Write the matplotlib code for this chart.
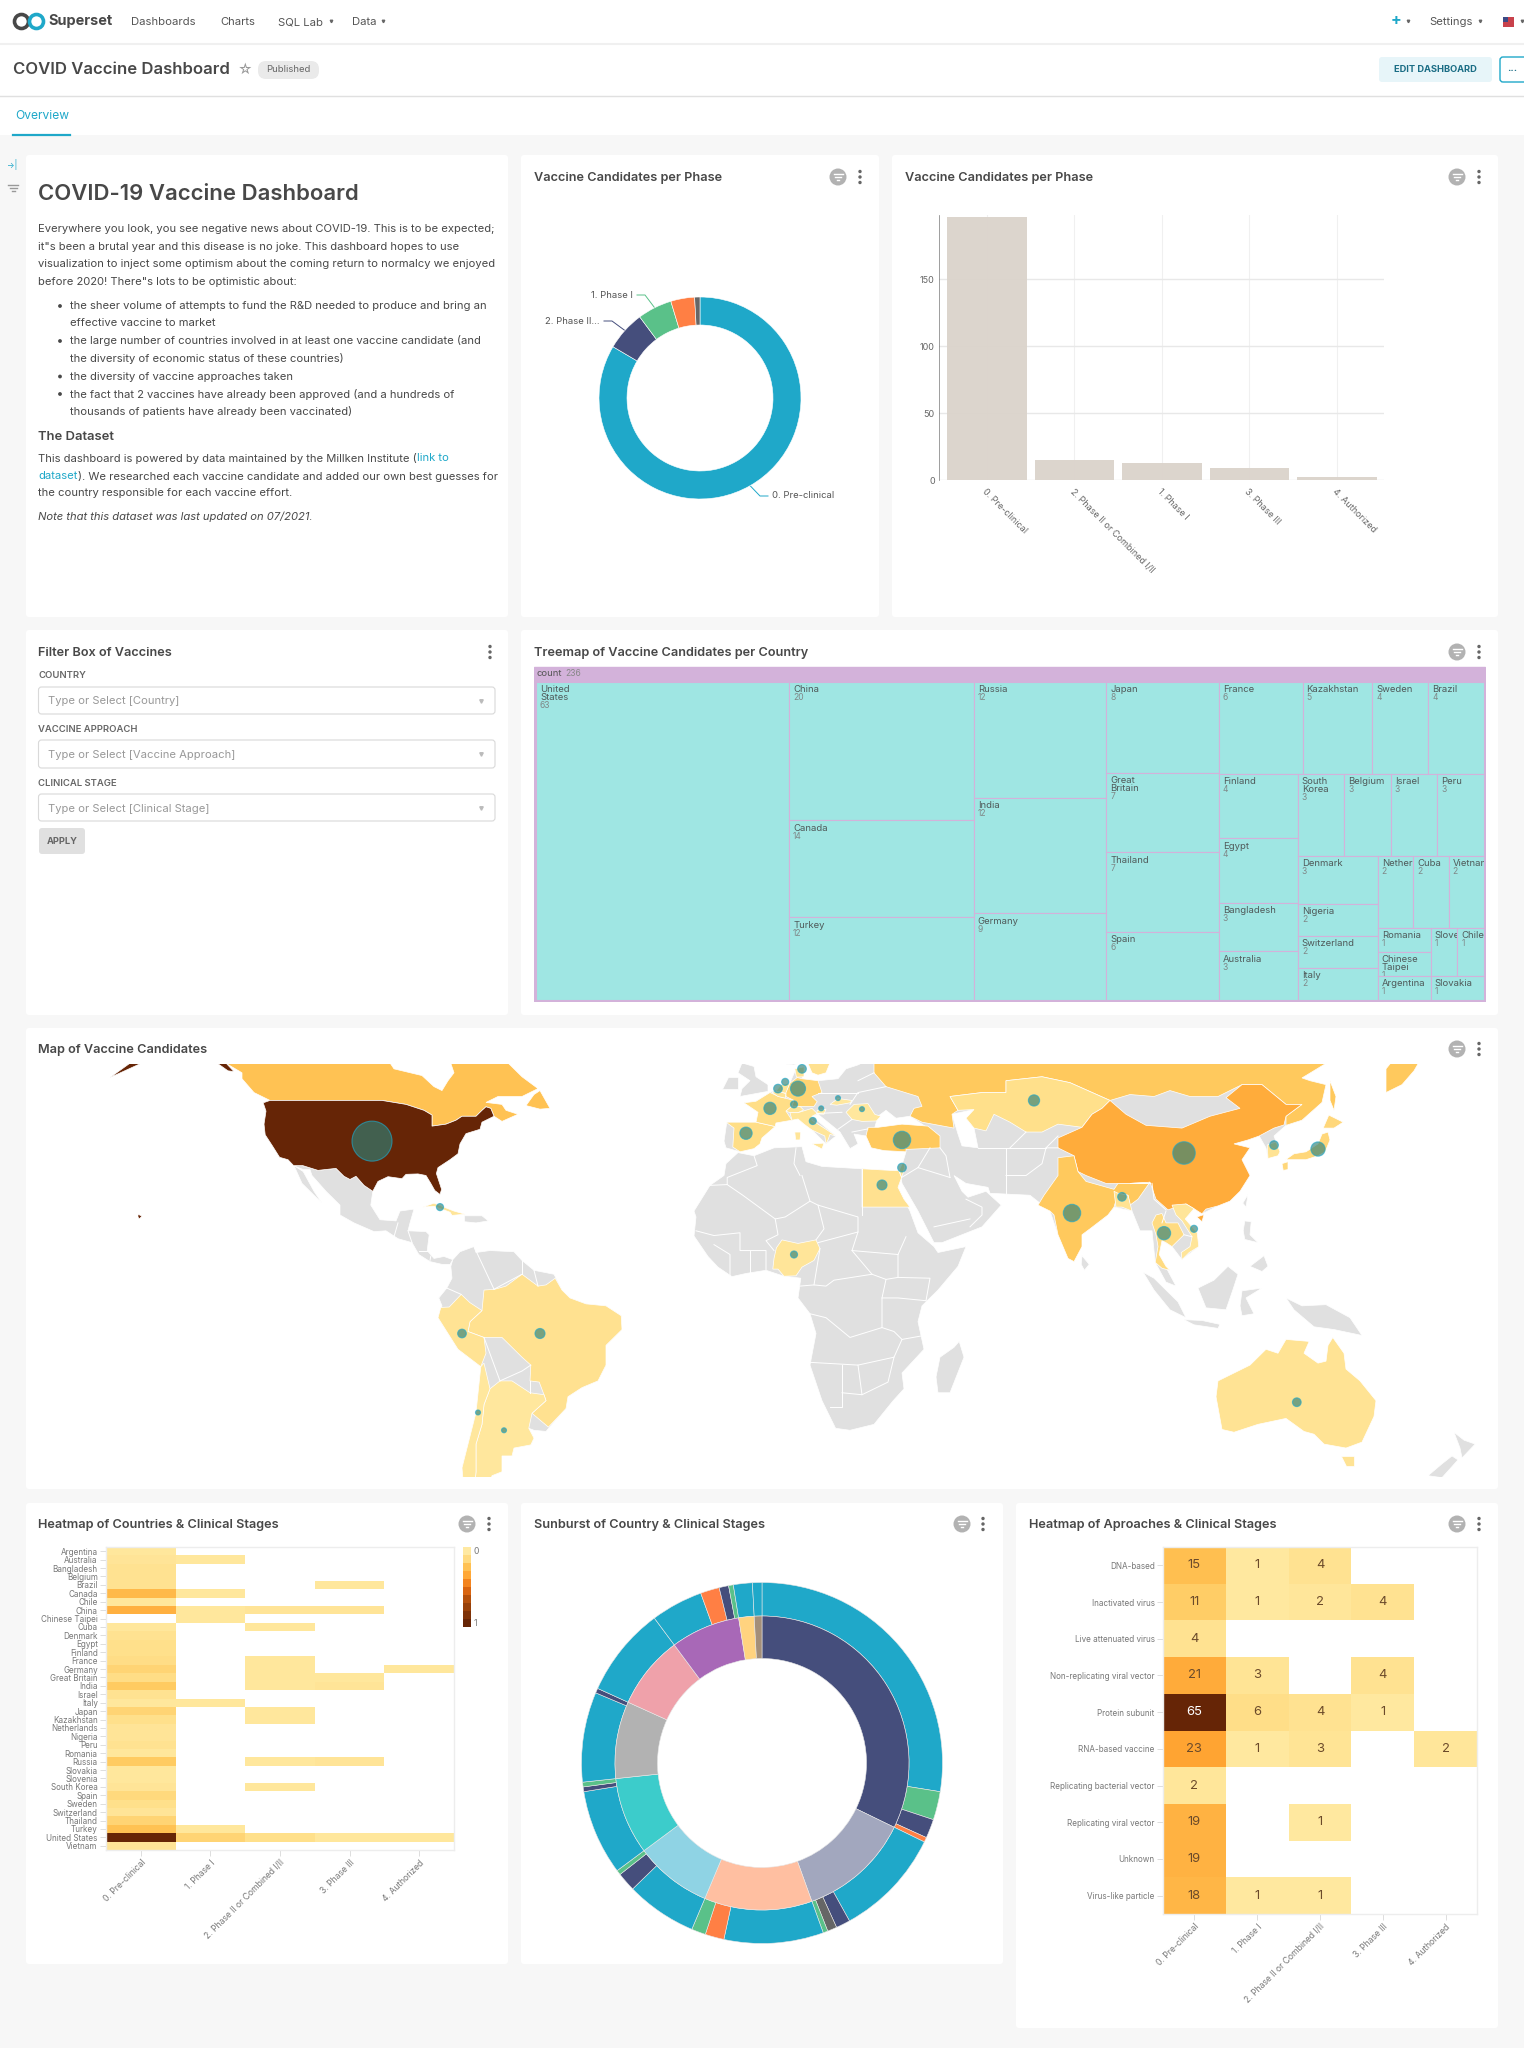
import numpy as np
import matplotlib
matplotlib.use("Agg")
import matplotlib.pyplot as plt
from matplotlib.colors import LinearSegmentedColormap
from matplotlib.patches import Rectangle, Circle, FancyBboxPatch

plt.rcParams['font.family'] = ['Inter', 'DejaVu Sans']

W, H = 1524, 2048

# ---- data ----
stages = ['0. Pre-clinical', '1. Phase I', '2. Phase II or Combined I/II', '3. Phase III', '4. Authorized']
countries = ['Argentina', 'Australia', 'Bangladesh', 'Belgium', 'Brazil', 'Canada', 'Chile', 'China',
             'Chinese Taipei', 'Cuba', 'Denmark', 'Egypt', 'Finland', 'France', 'Germany', 'Great Britain',
             'India', 'Israel', 'Italy', 'Japan', 'Kazakhstan', 'Netherlands', 'Nigeria', 'Peru', 'Romania',
             'Russia', 'Slovakia', 'Slovenia', 'South Korea', 'Spain', 'Sweden', 'Switzerland', 'Thailand',
             'Turkey', 'United States', 'Vietnam']
country_stage = [
    [1, 0, 0, 0, 0], [2, 1, 0, 0, 0], [3, 0, 0, 0, 0], [3, 0, 0, 0, 0], [3, 0, 0, 1, 0], [13, 1, 0, 0, 0],
    [1, 0, 0, 0, 0], [15, 1, 2, 2, 0], [0, 1, 0, 0, 0], [1, 0, 1, 0, 0], [3, 0, 0, 0, 0], [4, 0, 0, 0, 0],
    [4, 0, 0, 0, 0], [5, 0, 1, 0, 0], [7, 0, 1, 0, 1], [5, 0, 1, 1, 0], [9, 0, 1, 2, 0], [3, 0, 0, 0, 0],
    [1, 1, 0, 0, 0], [7, 0, 1, 0, 0], [4, 0, 1, 0, 0], [2, 0, 0, 0, 0], [2, 0, 0, 0, 0], [3, 0, 0, 0, 0],
    [1, 0, 0, 0, 0], [9, 0, 1, 2, 0], [1, 0, 0, 0, 0], [1, 0, 0, 0, 0], [2, 0, 1, 0, 0], [6, 0, 0, 0, 0],
    [4, 0, 0, 0, 0], [2, 0, 0, 0, 0], [7, 0, 0, 0, 0], [11, 1, 0, 0, 0], [50, 7, 4, 1, 1], [2, 0, 0, 0, 0],
]
approaches = ['DNA-based', 'Inactivated virus', 'Live attenuated virus', 'Non-replicating viral vector',
              'Protein subunit', 'RNA-based vaccine', 'Replicating bacterial vector', 'Replicating viral vector',
              'Unknown', 'Virus-like particle']
approach_stage = [
    [15, 1, 4, 0, 0], [11, 1, 2, 4, 0], [4, 0, 0, 0, 0], [21, 3, 0, 4, 0], [65, 6, 4, 1, 0],
    [23, 1, 3, 0, 2], [2, 0, 0, 0, 0], [19, 0, 1, 0, 0], [19, 0, 0, 0, 0], [18, 1, 1, 0, 0],
]
phase_order = [0, 2, 1, 3, 4]
phase_colors = ['#1FA8C9', '#5AC189', '#454E7C', '#FF7F44', '#666666']
sun_order = ['Protein subunit', 'RNA-based vaccine', 'Non-replicating viral vector', 'DNA-based',
             'Virus-like particle', 'Replicating viral vector', 'Unknown', 'Inactivated virus',
             'Live attenuated virus', 'Replicating bacterial vector']
sun_colors = ['#454E7C', '#A2A7BE', '#FFBFA1', '#8FD3E4', '#3CCCCB', '#B2B2B2', '#EFA1AA', '#A868B7',
              '#FFD37F', '#A38F79']

treemap_tree = ('h', [
    'United States',
    ('v', ['China', 'Canada', 'Turkey']),
    ('v', ['Russia', 'India', 'Germany']),
    ('v', ['Japan', 'Great Britain', 'Thailand', 'Spain']),
    ('v', [
        ('h', ['France', 'Kazakhstan', 'Sweden', 'Brazil']),
        ('h', [
            ('v', ['Finland', 'Egypt', 'Bangladesh', 'Australia']),
            ('v', [
                ('h', ['South Korea', 'Belgium', 'Israel', 'Peru']),
                ('h', [
                    ('v', ['Denmark', 'Nigeria', 'Switzerland', 'Italy']),
                    ('v', [
                        ('h', ['Netherlands', 'Cuba', 'Vietnam']),
                        ('h', [
                            ('v', ['Romania', 'Chinese Taipei', 'Argentina']),
                            ('v', [('h', ['Slovenia', 'Chile']), 'Slovakia']),
                        ]),
                    ]),
                ]),
            ]),
        ]),
    ]),
])
wrapped_names = {'United States': 'United\nStates', 'Great Britain': 'Great\nBritain',
                 'South Korea': 'South\nKorea', 'Chinese Taipei': 'Chinese\nTaipei'}

# bubble centres, lon/lat
centroids = {
    'United States': (-97.5, 38.7), 'Brazil': (-55.5, -10), 'Peru': (-75, -10), 'Argentina': (-64.5, -34.5),
    'Chile': (-71, -30), 'Cuba': (-80.5, 22), 'Egypt': (30, 27.6), 'Israel': (35, 32), 'Nigeria': (8, 10),
    'Turkey': (35, 39), 'Kazakhstan': (68, 49), 'China': (105.5, 35.7), 'India': (77.5, 20.5),
    'Thailand': (100.5, 15.4), 'Vietnam': (108, 16.5), 'South Korea': (128, 37.7), 'Japan': (139, 36.7),
    'Australia': (133.7, -27.4), 'Spain': (-4, 40.7), 'France': (2, 47), 'Netherlands': (5.8, 53.7),
    'Belgium': (4, 52), 'Germany': (9, 52), 'Switzerland': (8, 48), 'Slovenia': (14.8, 47),
    'Slovakia': (19, 49.6), 'Romania': (25, 46.8), 'Italy': (12.7, 43.8), 'Denmark': (10, 57),
    'Bangladesh': (90, 24.6),
}

# rough land outlines, lon/lat
gray_land = [
    [(-117.1, 32.5), (-114.8, 32.5), (-111, 31.3), (-106.5, 31.8), (-104.5, 29.8), (-103, 29), (-101.5, 29.8),
     (-99.5, 27.5), (-97.3, 26), (-97.8, 22.5), (-95.5, 18.8), (-91.5, 18.5), (-90.5, 21), (-87, 21.5), (-88, 18),
     (-88.5, 16), (-84, 15.8), (-83.2, 15), (-83.7, 11), (-82, 9), (-79.5, 9.5), (-77.3, 8.7), (-78, 7.5), (-80, 7.5),
     (-83, 8.2), (-85.8, 10), (-87.5, 13), (-91, 14), (-94, 16), (-97, 15.8), (-102, 18), (-105.5, 20), (-105.5, 22.5),
     (-109, 26), (-112.5, 30), (-113, 31.5), (-114.7, 31.5)],
    [(-117, 32.5), (-115, 28), (-110, 23), (-112, 26), (-114.7, 31)],
    [(-74.4, 19.8), (-70, 19.8), (-68.4, 18.5), (-71.5, 18), (-74.4, 18.3)],
    [(-77.3, 8.7), (-75.5, 10.7), (-72, 12), (-71.5, 10.5), (-68, 11), (-62, 10.7), (-60, 8.5), (-57, 6), (-52, 5),
     (-50, 1), (-48, -1), (-44, -2.5), (-39, -3), (-35.2, -5.5), (-35, -9), (-39, -13), (-39, -18), (-41, -22),
     (-45, -23.7), (-48.5, -26), (-49, -29), (-52.5, -33), (-54, -34.8), (-57, -34.5), (-58.3, -34), (-57, -36.5),
     (-57.8, -38.2), (-62, -39), (-62.5, -41), (-65, -41), (-65, -45), (-67.5, -46), (-69, -51), (-68.5, -52.5),
     (-72, -53), (-74.5, -50), (-75, -44), (-73.5, -38), (-71.5, -30), (-70.3, -18.4), (-76, -14), (-81, -6), (-80, -3),
     (-80.8, -1), (-78.8, 1.5), (-77.5, 4), (-77.8, 7)],
    [(-6, 35.8), (-2, 35), (3, 37), (10, 37.3), (11, 33.5), (15, 32.3), (20, 32), (25, 31.7), (32, 31.3), (34.2, 31.2),
     (34.9, 29.5), (34, 27), (35.5, 24), (37, 21), (39, 15.5), (43, 12), (44, 10.5), (51, 12), (49, 7), (44, 1),
     (40, -3), (39, -7), (40.5, -14), (35, -20), (35.5, -24), (32.8, -27), (28, -33), (22, -34.5), (18.4, -34),
     (15, -27), (12, -18), (13.5, -10), (12, -5), (9, -1), (9.7, 4), (5.5, 4.5), (1, 6), (-4, 5.2), (-7.5, 4.4),
     (-11, 6.8), (-13.5, 9.5), (-17, 14.7), (-16.5, 19.5), (-17, 21), (-13, 27.5), (-9.5, 30), (-9, 33)],
    [(-9.5, 38.7), (-8.8, 43.5), (-1.5, 43.5), (-1, 46), (-4.5, 48.4), (-1.5, 48.8), (2, 51), (4, 52), (7, 53.5),
     (8.5, 57), (10.5, 57.5), (10, 54.5), (14, 54), (19, 54.5), (21, 57), (24, 58), (28, 60), (30, 65), (150, 65),
     (142, 59), (135, 54.7), (137, 54), (141, 53), (140, 48.5), (135, 44), (131, 42.7), (128, 40), (129.5, 36),
     (126.5, 34.3), (126, 37), (124.3, 40), (121.5, 39), (118, 38), (122, 37), (120, 34), (122, 30), (119.5, 26),
     (114, 22.3), (110, 20.3), (108, 21.6), (105.8, 19), (108.8, 15.5), (109.2, 12), (105, 8.7), (102.5, 12),
     (100, 13.5), (99.3, 10), (103.5, 2), (101, 3), (98.3, 8), (97.5, 16), (94.5, 16), (92.5, 21), (88, 22),
     (86.5, 20), (80, 15), (78, 8.2), (74, 15), (72, 21), (67, 25), (57, 25.5), (56.5, 27), (51, 28), (48, 30),
     (50, 26), (51.5, 24.5), (56, 26), (59.8, 22.5), (55, 17), (45, 13), (43, 13), (39, 21), (35, 28), (34.5, 31),
     (36, 36), (30.5, 36.3), (27.3, 37), (26, 40), (23, 40.5), (24, 38), (22, 36.8), (19.5, 41), (14, 45.5),
     (12.5, 45), (18.5, 40), (16, 38), (12.5, 41.5), (9, 44.3), (3.5, 43.3), (0, 39.5), (-2, 36.8), (-5.5, 36), (-9, 37)],
    [(5, 60), (6, 58.2), (8, 58), (11, 59), (13, 62), (6, 62)],
    [(-5.5, 50), (1.5, 51.3), (1.5, 53), (-1.5, 55), (-2, 57.6), (-5, 58.5), (-6, 56), (-3, 54), (-5, 52)],
    [(-10, 52), (-6, 52), (-6, 55), (-8.5, 55)],
    [(49.3, -12), (50.5, -16), (47, -25), (44, -25), (43.5, -21), (44.5, -16), (48, -13.5)],
    [(80, 9.7), (81.8, 7.5), (80.6, 6), (79.8, 7.5)],
    [(95.3, 5.5), (98, 4), (104, -2), (106, -6), (102, -4), (98, 1)],
    [(105.5, -6.5), (110, -6.7), (114.5, -7.7), (114, -8.7), (108, -7.8)],
    [(109, 1.5), (113, 3.5), (116.5, 7), (119, 5), (117.7, 1), (116, -4), (111, -3.5)],
    [(119.5, -3), (120, 0.8), (125, 1.5), (121, -1), (123, -5), (120, -5.5)],
    [(131, -1), (135, -3), (141, -2.7), (147, -6), (150, -10.5), (143, -9), (138, -8.3), (133, -4)],
    [(120.3, 16), (120.7, 18.5), (122.3, 18.3), (122, 15), (124, 13), (120.7, 13.8)],
    [(122, 7), (125.5, 9.7), (126.5, 7), (125, 5.7)],
    [(120.2, 23), (121.5, 25.2), (121, 22)],
    [(173, -35), (175.5, -37), (178.3, -38), (175, -41.5), (174.5, -39)],
    [(172.5, -41), (174, -42), (170, -46.5), (166.5, -46), (170, -43)],
]
seas = [
    [(28, 41.5), (29, 45), (31, 46.5), (33.5, 44.5), (37, 45), (41.5, 42), (41, 41), (35, 42)],
    [(47.5, 45.5), (53, 46.7), (51, 44.5), (53, 42), (54, 37), (50, 37.5), (49, 40.5)],
]
border_lines = [
    [(-8.7, 27.7), (-4.8, 25), (3.3, 19), (5.8, 19.5), (12, 23.5), (14, 22.5), (24, 19.5), (24, 15.7), (22.5, 11),
     (27.5, 5), (31, 3.7), (34, 4.2), (42, 4), (41, -1.7)],
    [(-13, 27.5), (-8.7, 27.7), (-8.7, 29.5), (-1.2, 32.5), (-2, 35)], [(9.5, 30), (8, 33), (8.5, 37)],
    [(10, 30), (12, 23.5)], [(25, 31.7), (25, 20)], [(24, 15.7), (14, 13)], [(14, 22.5), (15.5, 16.5), (13.5, 13.7)],
    [(3.3, 19), (4, 15), (1, 13.5), (3, 11)], [(-16.5, 16), (-12, 14.8), (-5.5, 15.5), (-5.5, 11), (1, 11), (1, 6.2)],
    [(-12, 12.5), (-8, 10), (-8, 4.5)], [(-3, 11), (-3, 5)], [(36, 14.5), (34, 10), (34, 4.3)], [(22.5, 11), (34, 10)],
    [(9.5, 2), (13, 2.3), (16, 2), (18, 3.5), (27.5, 5)], [(13, 2.3), (14.5, 11.5)],
    [(12, -5), (16, -6), (22, -11), (30, -8.5), (30, -1), (31, 3.7)], [(30, -1), (34, -1), (41, -1.7)],
    [(12, -17.3), (24, -18), (33, -16), (35, -11.5), (40.5, -10.5)], [(30, -8.5), (33, -9.5), (35, -11.5)],
    [(20, -18), (20, -28.5), (17, -28.5)], [(24, -18), (25, -25.5), (20, -25)], [(25, -25.5), (31.5, -22.3), (33, -16)],
    [(34.9, 29.5), (39, 32), (42, 37)], [(39, 32), (47, 29.5)], [(47, 29.5), (46, 35), (44.5, 37)],
    [(61, 37), (61, 25)], [(61, 30), (66, 30), (70, 33), (71, 37), (74, 37)], [(54, 37), (61, 37), (66, 37), (71, 37)],
    [(52, 17), (55, 20), (55, 22), (51, 24)], [(43, 17), (52, 19)], [(66, 41), (62, 37)], [(71, 37), (74, 40)],
    [(92, 28), (97, 28)], [(97.5, 28), (98, 24), (101, 21.3)], [(101, 21), (100, 18)], [(105.5, 15), (107.5, 14.5)],
    [(22, 48), (24, 51), (31, 52.5)], [(14, 51), (24, 51)], [(24, 54), (28, 56)], [(19, 41.7), (22.5, 44.2)],
    [(20, 46), (13.8, 45.7)], [(22.5, 41), (26.5, 41.8)],
    [(-72, 12), (-67, 1.2)], [(-67, 1.2), (-60, 5)], [(-60, 8.5), (-60, 5)], [(-57, 6), (-56, 2)],
    [(-69.5, -11), (-65.5, -22)], [(-65.5, -22), (-60, -19.5), (-57.8, -18)], [(-58, -22), (-58, -25)],
    [(-92, 14.5), (-91, 18)], [(-88.5, 16), (-87.5, 13)], [(-83.5, 11), (-85.8, 11)], [(-83, 8.5), (-82.8, 9.6)],
    [(-78.8, 1.5), (-75.2, -0.1)],
]
country_shapes = {
    'Canada': [
        [(-137, 59), (-135, 59), (-130, 56), (-130, 54.5), (-127, 51), (-123, 49), (-95, 49), (-89, 48), (-84.5, 46.5),
         (-82.5, 45.3), (-82.5, 42.5), (-79, 43), (-76.5, 44), (-75, 45), (-71.5, 45), (-70, 46.5), (-69, 47.4),
         (-67.8, 47), (-67, 45), (-65, 43.7), (-61, 45.5), (-64, 46.5), (-65, 48), (-69, 48.5), (-66, 50), (-60, 50),
         (-56, 52), (-60, 55), (-64, 59), (-64, 62), (-78, 62), (-78, 59), (-77, 56), (-78.5, 54), (-80, 51.5),
         (-82, 52.5), (-85, 55.3), (-92, 57), (-94, 60), (-94, 62), (-137, 62)],
        [(-59, 47.7), (-55.5, 46.8), (-53, 47), (-55.5, 51.5), (-57, 50.5)]],
    'United States': [
        [(-124.7, 48.4), (-123, 49), (-95, 49), (-89, 48), (-84.5, 46.5), (-82.5, 45.3), (-82.5, 42.5), (-79, 43),
         (-76.5, 44), (-75, 45), (-71.5, 45), (-70, 46.5), (-69, 47.4), (-67.8, 47), (-67, 45), (-70, 43.5),
         (-70.5, 41.7), (-74, 40.6), (-75.5, 38), (-76, 35.5), (-78, 34), (-81, 32), (-81.4, 30.5), (-80.1, 26.5),
         (-80.5, 25.2), (-81.8, 26.2), (-82.8, 28), (-84, 30), (-86, 30.4), (-89, 30.3), (-90, 29.2), (-93.5, 29.7),
         (-96, 28.5), (-97.3, 26), (-99.5, 27.5), (-101.5, 29.8), (-103, 29), (-104.5, 29.8), (-106.5, 31.8),
         (-111, 31.3), (-114.8, 32.5), (-117.1, 32.5), (-118.5, 34), (-120.6, 34.6), (-122.4, 37.5), (-124.2, 40.3),
         (-124.5, 43), (-124, 46.3)],
        [(-163, 54.8), (-155, 58.5), (-152, 60), (-149, 62), (-160, 62), (-157.5, 58.8)],
        [(-137, 59), (-134.5, 59), (-132, 56.3), (-133.5, 56.5)],
        [(-156, 20.2), (-155, 19.7), (-155.7, 19), (-156, 19.5)]],
    'Cuba': [[(-84.8, 22), (-82, 23), (-77, 21), (-74.2, 20.2), (-77.5, 19.9), (-78, 20.7), (-82, 22.2)]],
    'Brazil': [[(-51.7, 4), (-50, 1), (-48, -1), (-44, -2.5), (-39, -3), (-35.2, -5.5), (-35, -9), (-39, -13), (-39, -18),
                (-41, -22), (-45, -23.7), (-48.5, -26), (-49, -29), (-53.4, -33.7), (-57.5, -30.2), (-54, -27),
                (-54.5, -25.5), (-55.7, -22.3), (-58, -22), (-57.8, -18), (-60, -16), (-65, -11), (-69.5, -11),
                (-73.5, -9.5), (-73, -7), (-70, -4.2), (-69.5, 1), (-66.8, 1.2), (-64, 2), (-60, 5), (-56, 2), (-54, 2.3)]],
    'Peru': [[(-70, -4.2), (-73, -7), (-73.5, -9.5), (-69.5, -11), (-69, -15), (-70.3, -18.4), (-76, -14), (-81, -6),
              (-80.3, -3.4), (-78.2, -3.3), (-75.2, -0.1), (-73, -2.2)]],
    'Argentina': [[(-65.5, -22), (-62.5, -22), (-58, -25), (-54.5, -25.5), (-54, -27), (-57.5, -30.2), (-58.3, -34),
                   (-57, -36.5), (-57.8, -38.2), (-62, -39), (-62.5, -41), (-65, -41), (-65, -45), (-67.5, -46), (-69, -51),
                   (-68.5, -52.5), (-72, -51), (-71.5, -45), (-71.5, -38), (-70, -33), (-69.5, -28), (-68, -24)]],
    'Chile': [[(-69.5, -17.5), (-70.3, -18.4), (-71.5, -30), (-73.5, -38), (-75, -44), (-74.5, -50), (-72, -53),
               (-68.5, -52.5), (-72, -51), (-71.5, -45), (-71.5, -38), (-70, -33), (-69.5, -28), (-68, -24)]],
    'Egypt': [[(25, 31.7), (32, 31.3), (34.2, 31.2), (34.9, 29.5), (34, 27), (35.5, 24), (37, 22), (25, 22)]],
    'Nigeria': [[(2.7, 6.3), (3, 9), (3.6, 11.7), (5, 13.7), (9, 12.8), (13.5, 13.7), (14.5, 11.5), (13, 8.5), (10, 6.8),
                 (8.5, 4.6), (5.5, 4.5), (4, 6.3)]],
    'Russia': [[(28, 56), (31, 52.5), (39, 50), (40, 47.5), (38, 47), (37, 45), (40, 43.5), (48, 42), (47.5, 45.5),
                (49, 46.5), (47, 50), (55, 51), (61, 51), (61, 54), (70, 55), (77, 53.5), (87, 49), (92, 50.5), (98, 50),
                (102, 51.5), (107, 50), (114, 50), (120, 53), (125, 53), (131, 48), (135, 48), (131, 45), (131, 42.7),
                (135, 44), (140, 48.5), (141, 53), (137, 54), (135, 54.7), (142, 59), (155, 62), (28, 62)],
               [(156, 57), (156, 51), (160, 53), (163, 56.5), (165, 60), (160, 62)],
               [(142, 54), (143.5, 50), (143, 46.5), (142, 49)]],
    'Kazakhstan': [[(47, 50), (55, 51), (61, 51), (61, 54), (70, 55), (77, 53.5), (87, 49), (85, 47), (82.5, 45.5),
                    (80, 42.2), (74, 43), (70, 41), (66, 41), (62, 43.5), (58, 45.5), (56, 41.3), (53, 42), (51, 44.5),
                    (53, 46.7), (49, 46.5)]],
    'China': [[(74, 39.5), (74, 37), (78, 35), (79, 31), (81, 30), (86, 28), (92, 28), (97, 28.3), (98.5, 24), (101.5, 21.3),
               (106, 22.8), (108, 21.6), (110, 20.3), (111, 21.5), (114, 22.3), (117, 23.5), (119.5, 26), (122, 30), (120, 34),
               (122, 37), (118, 38), (121.5, 39), (124.3, 40), (128, 42), (130.5, 42.8), (131, 45), (135, 48), (131, 48),
               (125, 53), (120, 53), (116, 49.7), (119.5, 47), (112, 45), (105, 42), (96, 42.7), (91, 45.5), (87, 49),
               (85, 47), (82.5, 45.5), (80, 42.2)],
              [(108.7, 19.5), (110.5, 20.1), (110, 18.3)]],
    'India': [[(74, 34.5), (78, 35), (79, 31), (81, 28.5), (88, 26.5), (89, 28), (92, 28), (97, 28.3), (94, 24), (92, 22.5),
               (91.5, 25), (89, 25.5), (88, 22), (86.5, 20), (82, 16.5), (80, 15), (80, 12), (78, 8.2), (76.5, 9), (74, 15),
               (73, 20), (72, 21), (69, 22.5), (70.5, 25), (74, 30)]],
    'Bangladesh': [[(88, 26), (89, 25.5), (91.5, 25), (92.5, 21), (90, 22), (88.5, 22)]],
    'Thailand': [[(97.5, 18), (98.5, 20), (100, 20.4), (101, 18), (104, 18), (105.5, 15), (102.5, 12), (101, 13), (100, 13.5),
                  (99.3, 10), (101, 7), (102, 6), (100, 6.5), (98.3, 8), (99, 12), (98.5, 15)]],
    'Vietnam': [[(102.5, 22.5), (106, 22.8), (108, 21.6), (105.8, 19), (108.8, 15.5), (109.2, 12), (106.8, 10.5), (105, 8.7),
                 (104.8, 10.5), (107, 12), (107.5, 14.5), (105, 18.5), (103.5, 20)]],
    'South Korea': [[(126.3, 37.7), (128.5, 38.5), (129.5, 36), (129, 35), (126.5, 34.3)]],
    'Japan': [[(130.9, 34), (133, 35.5), (136, 36), (139, 38), (140, 40.5), (141.5, 41), (142, 39), (140.8, 36), (139, 35),
               (136, 34), (132.5, 34)],
              [(130, 33), (131.5, 33.5), (131.5, 31.5), (130.3, 31.3)],
              [(140.3, 42), (141.7, 45.3), (145.3, 43.5), (143, 42)]],
    'Turkey': [[(26, 40), (26.5, 42.2), (29, 42.2), (35, 43), (41.5, 42.5), (44.5, 40), (44.5, 37), (36, 36.6), (36, 36),
                (30.5, 36.3), (27.3, 37)]],
    'Israel': [[(34.3, 31.3), (35.1, 33.1), (35.8, 33), (35.4, 31), (34.9, 29.5)]],
    'Spain': [[(-9, 43.5), (-1.5, 43.5), (3.3, 42.4), (0, 39.5), (-0.5, 38), (-2, 36.8), (-5.5, 36), (-7.3, 37.2), (-7, 42)]],
    'France': [[(-1.5, 43.5), (-1, 46), (-4.5, 48.4), (-1.5, 48.8), (2, 51), (4.2, 50), (8, 49), (7.5, 47.5), (6, 46.3),
                (7.5, 44), (3.5, 43.3), (3.3, 42.4)]],
    'Belgium': [[(2.5, 51), (4, 51.4), (6, 50.7), (5.8, 49.6), (4, 50)]],
    'Netherlands': [[(3.5, 51.4), (4.8, 53), (7, 53.4), (6, 50.8)]],
    'Germany': [[(6, 51), (7, 53.4), (8.8, 54.8), (10, 54.5), (14, 54), (15, 51), (12.5, 50), (13.8, 48.7), (13, 47.5),
                 (7.5, 47.5), (8, 49), (6, 50)]],
    'Denmark': [[(8.2, 57), (10.5, 57.5), (10.5, 55), (8.6, 54.9)]],
    'Sweden': [[(11.2, 59), (12.5, 56), (14, 55.4), (16, 56), (17, 58.5), (18.5, 60), (13, 61)]],
    'Switzerland': [[(6, 46.3), (7.5, 47.6), (9.5, 47.5), (10.4, 46.6), (9, 45.9), (7, 45.9)]],
    'Italy': [[(7.5, 44), (7, 45.9), (9, 45.9), (12.5, 47), (13.8, 45.7), (12.5, 45), (12.5, 44), (16, 41.7), (18.5, 40),
               (17, 40.4), (16.5, 39), (16, 38), (15.7, 40), (12.5, 41.5), (10.5, 43), (9, 44.3)],
              [(12.5, 38), (15.5, 38.2), (15, 36.7)], [(8.2, 41), (9.7, 41), (9.5, 39), (8.4, 39)]],
    'Slovenia': [[(13.7, 45.6), (13.8, 46.5), (16, 46.8), (15.5, 45.5)]],
    'Slovakia': [[(17, 48), (19, 49.5), (22.5, 49), (22, 48.4), (18.7, 47.8)]],
    'Romania': [[(21, 46), (23, 48), (26.5, 48.2), (28.2, 45.5), (29.7, 45), (28.6, 43.8), (25, 43.7), (22.5, 44.2)]],
    'Australia': [[(114, -22), (113.5, -26), (115, -34.3), (118, -35), (124, -33), (131, -31.5), (135.5, -34.8), (138, -35.5),
                   (140.5, -38), (146, -39), (150, -37.5), (153, -31), (153.5, -27), (149.5, -22), (146, -19), (145.5, -15),
                   (142.7, -11), (141.5, -13), (141, -17), (139, -17.5), (135.5, -15), (136.8, -12), (131, -11.5), (129, -15),
                   (126, -14), (122, -18), (117, -20.5)],
                  [(144.7, -41), (148, -41), (148, -43.5), (146, -43.5)]],
}

paragraph = ['Everywhere you look, you see negative news about COVID-19. This is to be expected;',
             'it"s been a brutal year and this disease is no joke. This dashboard hopes to use',
             'visualization to inject some optimism about the coming return to normalcy we enjoyed',
             'before 2020! There"s lots to be optimistic about:']
bullets = [('the sheer volume of attempts to fund the R&D needed to produce and bring an', True),
           ('effective vaccine to market', False),
           ('the large number of countries involved in at least one vaccine candidate (and', True),
           ('the diversity of economic status of these countries)', False),
           ('the diversity of vaccine approaches taken', True),
           ('the fact that 2 vaccines have already been approved (and a hundreds of', True),
           ('thousands of patients have already been vaccinated)', False)]

# ---- colours ----
heat_cmap = LinearSegmentedColormap.from_list('heat', [
    (0, '#FFE9A2'), (.1, '#FFDD85'), (.2, '#FFC658'), (.35, '#FFA533'), (.5, '#EC7014'), (.7, '#AA4A0A'), (1, '#662506')])
heat_cmap.set_bad('white')
BLUE = '#1FA8C9'
TITLE = '#484848'
GRAY_TXT = '#666666'
BODY_PX = 11.2
CARD_TITLE_PX = 12.7

fig = plt.figure(figsize=(W / 100, H / 100), dpi=100, facecolor='#F7F7F7')


def panel(x0, y0, x1, y1, z=2):
    return fig.add_axes([x0 / W, 1 - y1 / H, (x1 - x0) / W, (y1 - y0) / H], zorder=z)


ui = panel(0, 0, W, H, z=1)
ui.set_xlim(0, W)
ui.set_ylim(H, 0)
ui.axis('off')


def txt(x, y, s, px=12, color=GRAY_TXT, weight='normal', ha='left', style='normal', target=None):
    # page text sits about a pixel lower than a centred baseline gives
    if target is None:
        y = y + 1
    t = (target or ui).text(x, y, s, fontsize=px * .72, color=color, fontweight=weight, ha=ha, va='center',
                            fontstyle=style)
    return t


def box(x0, y0, x1, y1, fc='white', ec='none', lw=0, round_px=0):
    if round_px:
        ui.add_patch(FancyBboxPatch((x0 + round_px, y0 + round_px), x1 - x0 - 2 * round_px, y1 - y0 - 2 * round_px,
                                    boxstyle='round,pad=%d' % round_px, fc=fc, ec=ec, lw=lw))
    else:
        ui.add_patch(Rectangle((x0, y0), x1 - x0, y1 - y0, fc=fc, ec=ec, lw=lw))


def icons(x_filter, x_dots, y, has_filter=True):
    if has_filter:
        ui.add_patch(Circle((x_filter, y), 8.5, fc='#B2B2B2', ec='none'))
        for dy, half in [(-3, 4.5), (0, 3), (3, 1.2)]:
            ui.plot([x_filter - half, x_filter + half], [y + dy, y + dy], color='white', lw=1)
    for dy in (-5.5, 0, 5.5):
        ui.add_patch(Circle((x_dots, y + dy), 1.7, fc='#666666', ec='none'))


# top bars
box(0, 0, W, 43)
ui.plot([0, W], [43.5, 43.5], color='#F0F0F0', lw=1.5)
box(0, 44, W, 96)
ui.plot([0, W], [96, 96], color='#E0E0E0', lw=1)
box(0, 97, W, 135)
ui.add_patch(Circle((21.5, 21.5), 7, fc='none', ec='#484848', lw=2.6))
ui.add_patch(Circle((36.5, 21.5), 7, fc='none', ec=BLUE, lw=2.6))
txt(48, 20, 'Superset', 14.5, TITLE, 'bold')
for x, label in [(131, 'Dashboards'), (220, 'Charts'), (278, 'SQL Lab'), (352, 'Data')]:
    txt(x, 21, label, 11.3, '#555555')
for x in (331, 383, 1408, 1480, 1522):
    ui.plot([x], [21], marker='v', ms=1.8, color='#666666')
txt(1396, 19, '+', 16, BLUE, 'bold', ha='center')
txt(1429, 21, 'Settings', 11.3, '#555555')
box(1503, 17, 1514, 27, fc='#C8414B')
box(1503, 17, 1508, 22, fc='#3C4A85')
txt(13, 69, 'COVID Vaccine Dashboard', 16.7, TITLE, '600')
txt(245, 69, '☆', 14, '#999999', ha='center')
box(258, 61, 319, 79, fc='#EAEAEA', round_px=8)
txt(288.5, 69, 'Published', 9.5, '#666666', ha='center')
box(1379, 57, 1492, 82, fc='#E7F5F9', round_px=3)
txt(1435.5, 68.5, 'EDIT DASHBOARD', 9.3, '#1A6D85', '700', ha='center')
box(1500, 57, 1530, 82, fc='white', ec=BLUE, lw=1, round_px=3)
txt(1512, 67, '...', 10, '#1A6D85', '700', ha='center')
txt(15, 115, 'Overview', 12, BLUE)
ui.plot([13, 70], [134.5, 134.5], color=BLUE, lw=1.6)
txt(12, 164, '→|', 8, BLUE, ha='center')
for dy, half in [(185, 5), (188, 3.5), (191, 1.5)]:
    ui.plot([13 - half, 13 + half], [dy, dy], color='#999999', lw=1)

# cards
for rect in [(26, 155, 508, 617), (521, 155, 879, 617), (892, 155, 1498, 617),
             (26, 630, 508, 1015), (521, 630, 1498, 1015), (26, 1028, 1498, 1489),
             (26, 1503, 508, 1964), (521, 1503, 1003, 1964), (1016, 1503, 1498, 2028)]:
    box(*rect, round_px=3)

# markdown card
txt(38.5, 193, 'COVID-19 Vaccine Dashboard', 22.1, TITLE, '600')
for y, line in zip((228, 245.5, 263, 281), paragraph):
    txt(38.5, y, line, BODY_PX, '#484848')
for y, (line, dot) in zip((305, 322.5, 340, 358, 375.5, 393, 410.6), bullets):
    txt(70, y, line, BODY_PX, '#484848')
    if dot:
        ui.add_patch(Circle((60, y + 1), 1.9, fc='#484848', ec='none'))
txt(38.5, 436, 'The Dataset', 13, TITLE, '600')
t = txt(38.5, 457, 'This dashboard is powered by data maintained by the Millken Institute (', BODY_PX, '#484848')
fig.canvas.draw()
x_link = ui.transData.inverted().transform(t.get_window_extent().get_points())[1][0]
txt(x_link, 457, 'link to', BODY_PX, BLUE)
t = txt(38.5, 475, 'dataset', BODY_PX, BLUE)
x_link = ui.transData.inverted().transform(t.get_window_extent().get_points())[1][0]
txt(x_link, 475, '). We researched each vaccine candidate and added our own best guesses for', BODY_PX, '#484848')
txt(38.5, 492.5, 'the country responsible for each vaccine effort.', BODY_PX, '#484848')
txt(38.5, 516, 'Note that this dataset was last updated on 07/2021.', BODY_PX, '#484848', style='italic')

# donut
txt(534, 177, 'Vaccine Candidates per Phase', CARD_TITLE_PX, TITLE, '600')
icons(838, 860, 177)
phase_totals = np.array(approach_stage).sum(axis=0)
donut_vals = phase_totals[phase_order]
ax = panel(598, 296, 802, 500)
ax.pie(donut_vals, radius=1, startangle=90, counterclock=False, colors=[BLUE, '#454E7C', '#5AC189', '#FF7F44', '#666666'],
       wedgeprops=dict(width=28 / 101, edgecolor='white', linewidth=.4))
ax.set_xlim(-102 / 101, 102 / 101)
ax.set_ylim(-102 / 101, 102 / 101)
mid = np.cumsum(donut_vals) - donut_vals / 2
for k, label, lx, ly, ha in [(1, '2. Phase II...', 600, 321, 'right'), (2, '1. Phase I', 633, 295, 'right'),
                             (0, '0. Pre-clinical', 772, 496, 'left')]:
    a = np.deg2rad(mid[k] / donut_vals.sum() * 360)
    px, py = 700 + 101 * np.sin(a), 398 - 101 * np.cos(a)
    ox = lx + (4 if ha == 'right' else -4)
    ui.plot([px, ox + (8 if ha == 'right' else -8), ox], [py, ly, ly], color='#5AC189' if k == 2 else
            ('#454E7C' if k == 1 else BLUE), lw=.7)
    txt(lx, ly - 1, label, 9.5, '#555555', ha=ha)

# bar chart
txt(905, 177, 'Vaccine Candidates per Phase', CARD_TITLE_PX, TITLE, '600')
icons(1457, 1479, 177)
ax = panel(939, 215, 1384, 480)
ax.patch.set_alpha(0)
ax.bar(range(5), donut_vals, width=.91, color='#DBD3CB', zorder=2, alpha=.95)
ax.set_xlim(-.549, 4.54)
ax.set_ylim(0, 198.2)
ax.set_yticks([0, 50, 100, 150])
ax.set_xticks(range(5))
ax.set_xticklabels([stages[i] for i in phase_order], rotation=-45, ha='left', va='top', rotation_mode='anchor',
                   fontsize=9.5 * .72, color=GRAY_TXT)
ax.tick_params(axis='both', length=0, labelsize=9 * .72, labelcolor=GRAY_TXT, pad=3)
ax.tick_params(axis='x', pad=5)
ax.grid(axis='y', color='#E8E8E8', lw=1, zorder=1)
ax.grid(axis='x', color='#F0F0F0', lw=.8, zorder=1)
for s in ('top', 'right', 'bottom'):
    ax.spines[s].set_visible(False)
ax.spines['left'].set_color('#777777')
ax.spines['left'].set_linewidth(.5)

# filter box
txt(38.5, 652, 'Filter Box of Vaccines', CARD_TITLE_PX, TITLE, '600')
icons(0, 490, 652, has_filter=False)
for y_lab, y0, y1, lab, ph in [(675, 687, 714, 'COUNTRY', 'Type or Select [Country]'),
                               (729, 740, 768, 'VACCINE APPROACH', 'Type or Select [Vaccine Approach]'),
                               (782, 794, 821, 'CLINICAL STAGE', 'Type or Select [Clinical Stage]')]:
    txt(38.5, y_lab, lab, 9.5, '#666666', '600')
    box(38.5, y0, 495, y1, fc='white', ec='#D9D9D9', lw=.8, round_px=3)
    txt(48, (y0 + y1) / 2, ph, 11.2, '#999999')
    ui.plot([481], [(y0 + y1) / 2], marker='v', ms=2.5, color='#BBBBBB')
box(39, 828, 85, 854, fc='#E0E0E0', round_px=3)
txt(62, 840, 'APPLY', 9.3, '#666666', '700', ha='center')

# treemap
txt(534, 652, 'Treemap of Vaccine Candidates per Country', CARD_TITLE_PX, TITLE, '600')
icons(1457, 1479, 652)
country_counts = dict(zip(countries, np.array(country_stage).sum(axis=1).tolist()))
ax = panel(534, 666, 1486, 1002, z=3)
ax.set_xlim(534, 1486)
ax.set_ylim(1002, 666)
ax.axis('off')
ax.add_patch(Rectangle((534.5, 666.5), 951, 335, fc='#D3B2DA', ec='#D3B2DA', lw=1))
txt(537, 674, 'count', 9.5, '#555555', target=ax)
txt(565, 674, str(sum(country_counts.values())), 8.5, '#888888', target=ax)


def node_total(node):
    if isinstance(node, str):
        return country_counts[node]
    return sum(node_total(c) for c in node[1])


def draw_treemap(node, x0, y0, x1, y1):
    if isinstance(node, str):
        r = ax.add_patch(Rectangle((x0, y0), x1 - x0, y1 - y0, fc='#9FE6E3', ec='#D3B2DA', lw=.8))
        lines = wrapped_names.get(node, node).split('\n')
        parts = [txt(x0 + 4, y0 + 8 + 8 * i, line, 9.5, '#505A5A', target=ax) for i, line in enumerate(lines)]
        parts.append(txt(x0 + 4, y0 + 8 + 8 * len(lines), str(country_counts[node]), 8.5, '#808888', target=ax))
        for t in parts:
            t.set_clip_on(True)
            t.set_clip_path(r)
        return
    direction, children = node
    total = node_total(node)
    pos = x0 if direction == 'h' else y0
    for c in children:
        if direction == 'h':
            w = (x1 - x0) * node_total(c) / total
            draw_treemap(c, pos, y0, pos + w, y1)
        else:
            w = (y1 - y0) * node_total(c) / total
            draw_treemap(c, x0, pos, x1, pos + w)
        pos += w


draw_treemap(treemap_tree, 536, 682, 1484, 1000)

# map
txt(38, 1049, 'Map of Vaccine Candidates', CARD_TITLE_PX, TITLE, '600')
icons(1457, 1479, 1049)
ax = panel(37, 1064, 1490, 1477)
ax.set_xlim((37 - 762) / 4, (1490 - 762) / 4)
ax.set_ylim((1294 - 1477) / 3.95, (1294 - 1064) / 3.95)
ax.axis('off')
for shape in gray_land:
    lon, lat = zip(*shape)
    ax.fill(lon, lat, fc='#E0E0E0', ec='white', lw=.5)
for line in border_lines:
    lon, lat = zip(*line)
    ax.plot(lon, lat, color='white', lw=.7)
for shape in seas:
    lon, lat = zip(*shape)
    ax.fill(lon, lat, fc='white', ec='white', lw=.5)
max_count = max(country_counts.values())
for name, shapes in country_shapes.items():
    c = heat_cmap(country_counts[name] / max_count)
    for shape in shapes:
        lon, lat = zip(*shape)
        ax.fill(lon, lat, fc=c, ec='white', lw=.5)
bubble_lon = [centroids[n][0] for n in centroids]
bubble_lat = [centroids[n][1] for n in centroids]
bubble_size = [(2 * 2.52 * .72) ** 2 * country_counts[n] for n in centroids]
ax.scatter(bubble_lon, bubble_lat, s=bubble_size, c='#2F8077', alpha=.65, edgecolors=BLUE, linewidths=.8, zorder=5)

# heatmap of countries
txt(38, 1524, 'Heatmap of Countries & Clinical Stages', CARD_TITLE_PX, TITLE, '600')
icons(467, 489, 1524)
ax = panel(106, 1547, 454, 1850)
arr = np.array(country_stage, dtype=float)
ax.pcolormesh(np.ma.masked_equal(arr, 0) / arr.max(), cmap=heat_cmap, vmin=0, vmax=1)
ax.set_xlim(0, 5)
ax.set_ylim(len(countries), 0)
ax.set_yticks(np.arange(len(countries)) + .5)
ax.set_yticklabels(countries, fontsize=8.1 * .72, color='#777777')
ax.set_xticks(np.arange(5) + .5)
ax.set_xticklabels(stages, rotation=45, ha='right', va='top', rotation_mode='anchor', fontsize=8.6 * .72, color='#777777')
ax.tick_params(length=4, width=.6, color='#D8D8D8', pad=2)
for s in ax.spines.values():
    s.set_color('#EDEDED')
    s.set_linewidth(1)
ax = panel(463, 1547, 471, 1627)
ax.imshow(np.linspace(0, 1, 10)[:, None], cmap=heat_cmap, aspect='auto', vmin=0, vmax=1)
ax.axis('off')
txt(474, 1551, '0', 8.7, '#777777')
txt(474, 1623, '1', 8.7, '#777777')

# sunburst
txt(534, 1524, 'Sunburst of Country & Clinical Stages', CARD_TITLE_PX, TITLE, '600')
icons(962, 983, 1524)
R = 180.5
ax = panel(762 - R - 1, 1763 - R - 1, 762 + R + 1, 1763 + R + 1)
inner_vals, outer_vals, outer_cols = [], [], []
for name in sun_order:
    row = approach_stage[approaches.index(name)]
    inner_vals.append(sum(row))
    # biggest phase first, ties with the later phase first
    for i in sorted(range(5), key=lambda i: (-row[i], -i)):
        if row[i] > 0:
            outer_vals.append(row[i])
            outer_cols.append(phase_colors[i] if i else BLUE)
ax.pie(outer_vals, radius=1, startangle=90, counterclock=False, colors=outer_cols,
       wedgeprops=dict(width=(R - 147) / R, edgecolor='#E8E8E8', linewidth=.4))
ax.pie(inner_vals, radius=147 / R, startangle=90, counterclock=False, colors=sun_colors,
       wedgeprops=dict(width=(147 - 104.5) / R, edgecolor='#E8E8E8', linewidth=.4))
ax.set_xlim(-(R + 1) / R, (R + 1) / R)
ax.set_ylim(-(R + 1) / R, (R + 1) / R)

# heatmap of approaches
txt(1029, 1524, 'Heatmap of Aproaches & Clinical Stages', CARD_TITLE_PX, TITLE, '600')
icons(1457, 1479, 1524)
ax = panel(1163, 1547, 1477, 1914)
arr = np.array(approach_stage, dtype=float)
ax.pcolormesh(np.ma.masked_equal(arr, 0) / arr.max(), cmap=heat_cmap, vmin=0, vmax=1)
ax.set_xlim(0, 5)
ax.set_ylim(len(approaches), 0)
for r, row in enumerate(approach_stage):
    for c, v in enumerate(row):
        if v:
            ax.text(c + .5, r + .5, str(v), ha='center', va='center', fontsize=13 * .72,
                    color='white' if v > 40 else '#6B4A2A')
ax.set_yticks(np.arange(len(approaches)) + .5)
ax.set_yticklabels(approaches, fontsize=8.1 * .72, color='#777777')
ax.set_xticks(np.arange(5) + .5)
ax.set_xticklabels(stages, rotation=45, ha='right', va='top', rotation_mode='anchor', fontsize=8.6 * .72, color='#777777')
ax.tick_params(length=4, width=.6, color='#D8D8D8', pad=2)
for s in ax.spines.values():
    s.set_color('#EDEDED')
    s.set_linewidth(1)

fig.savefig('out.png', dpi=100, facecolor=fig.get_facecolor())
